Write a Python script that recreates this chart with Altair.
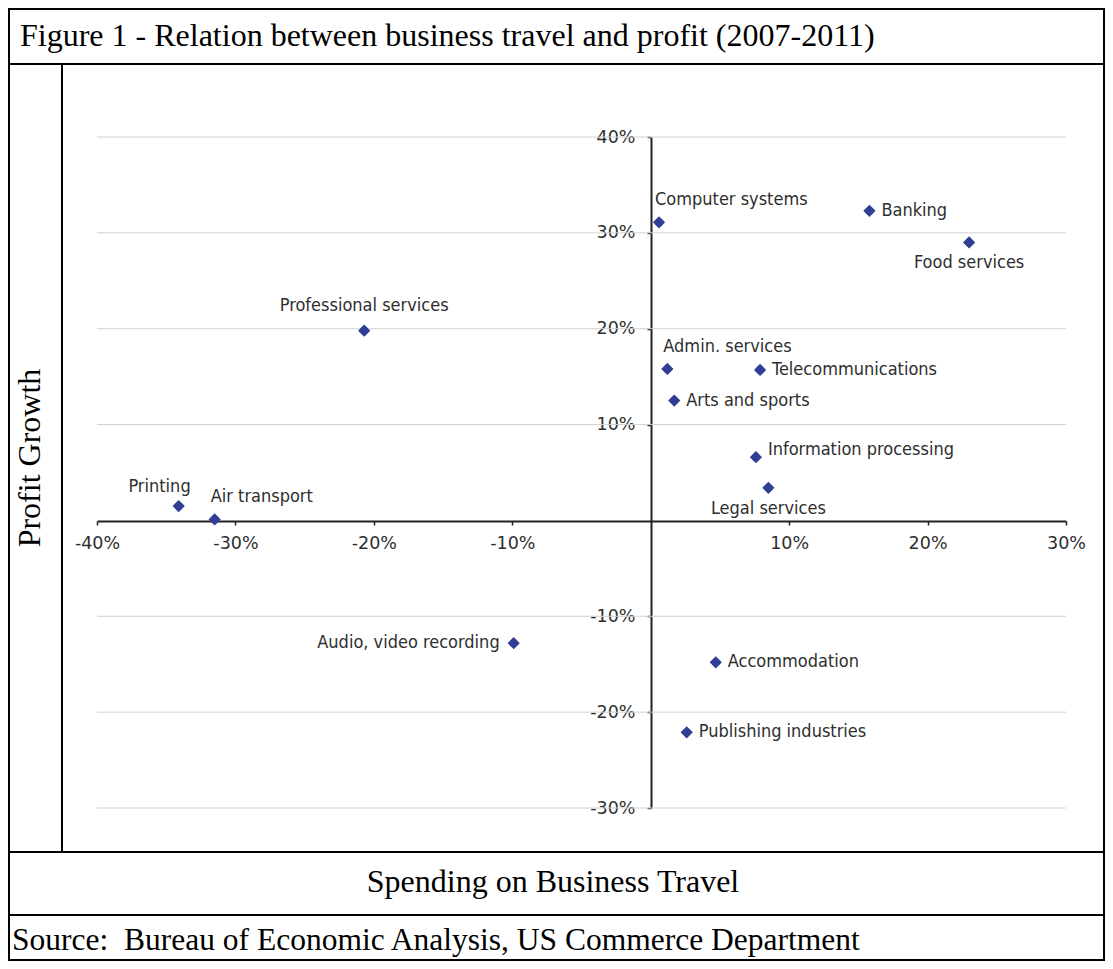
import altair as alt
import pandas as pd

# ---- data ----
names = ["Computer systems", "Banking", "Food services", "Professional services",
         "Admin. services", "Telecommunications", "Arts and sports",
         "Information processing", "Legal services", "Printing", "Air transport",
         "Audio, video recording", "Accommodation", "Publishing industries"]
spending = [0.006, 0.158, 0.230, -0.207, 0.012, 0.079, 0.017, 0.076, 0.085,
            -0.341, -0.315, -0.099, 0.047, 0.026]
profit = [0.311, 0.323, 0.290, 0.198, 0.158, 0.157, 0.125, 0.066, 0.034,
          0.015, 0.001, -0.128, -0.148, -0.221]
label_place = ["above-start", "right", "below", "above", "above-start", "right",
               "right", "upper-right", "below", "above-end", "above-start",
               "left", "right", "right"]

x_ticks = [-0.4, -0.3, -0.2, -0.1, 0.1, 0.2, 0.3]
y_ticks = [-0.3, -0.2, -0.1, 0.1, 0.2, 0.3, 0.4]

title_text = "Figure 1 - Relation between business travel and profit (2007-2011)"
y_title = "Profit Growth"
x_title = "Spending on Business Travel"
source_text = "Source:\u00a0 Bureau of Economic Analysis, US Commerce Department"

df = pd.DataFrame({"name": names, "spending": spending, "profit": profit,
                   "place": label_place})
grid_df = pd.DataFrame({"g": y_ticks})

# ---- layout ----
W, H = 1097, 953
SANS = "DejaVu Sans Condensed, Liberation Sans Narrow, DejaVu Sans, sans-serif"
TICKF = "DejaVu Sans, sans-serif"
SERIF = "Liberation Serif, Times New Roman, serif"
X0, Y0 = 643, 513  # pixel position of the zero axes
FS = 18
TXT = "#2e2e2e"
MARK = "#303f94"

xs = alt.Scale(domain=[-0.4, 0.3], range=[89, 1058], nice=False, zero=False)
ys = alt.Scale(domain=[-0.3, 0.4], range=[800, 129], nice=False, zero=False)

lab = "toString(round(datum.value*100)) + '%'"
xaxis = alt.Axis(values=x_ticks, labelExpr=lab, title=None, grid=False,
                 labelFlush=False, labelOverlap=False,
                 domainColor="#222222", domainWidth=2, tickColor="#222222",
                 tickSize=4, tickWidth=1.5, labelFontSize=17.5, labelColor=TXT,
                 labelFont=TICKF, labelPadding=9, offset=Y0 - H)
yaxis = alt.Axis(values=y_ticks, labelExpr=lab, title=None, grid=False,
                 labelFlush=False, labelOverlap=False,
                 domainColor="#222222", domainWidth=2, tickColor="#222222",
                 tickSize=4, tickWidth=1.5, labelFontSize=17.5, labelColor=TXT,
                 labelFont=TICKF, labelPadding=12, offset=-X0)

one = alt.Data(values=[{}])

def hline(y, x1=0, x2=W):
    return alt.Chart(one).mark_rule(color="black", strokeWidth=2).encode(
        x=alt.value(x1), x2=alt.value(x2), y=alt.value(y))

frame = alt.Chart(one).mark_rect(fillOpacity=0, stroke="black", strokeWidth=2).encode(
    x=alt.value(1), x2=alt.value(W - 1), y=alt.value(1), y2=alt.value(H - 1))
vline = alt.Chart(one).mark_rule(color="black", strokeWidth=2).encode(
    x=alt.value(54), y=alt.value(56), y2=alt.value(844))

grid = alt.Chart(grid_df).mark_rule(color="#d2d2d2", strokeWidth=1).encode(
    y=alt.Y("g:Q", scale=ys, axis=yaxis),
    x=alt.datum(-0.4, scale=xs, axis=xaxis), x2=alt.datum(0.3))

enc = dict(x=alt.X("spending:Q", scale=xs, axis=xaxis),
           y=alt.Y("profit:Q", scale=ys, axis=yaxis))
pts_d = alt.Chart(df).mark_point(shape="diamond", filled=True, size=150,
                                 color=MARK, opacity=1).encode(**enc)
pts_c = alt.Chart(df).mark_point(shape="circle", filled=True, size=60,
                                 color=MARK, opacity=1).encode(**enc)

placements = {
    "above-start": dict(align="left", dx=-4, dy=-22),
    "right": dict(align="left", dx=12, dy=0),
    "upper-right": dict(align="left", dx=12, dy=-7),
    "below": dict(align="center", dx=0, dy=21),
    "above": dict(align="center", dx=0, dy=-25),
    "above-end": dict(align="right", dx=12, dy=-19),
    "left": dict(align="right", dx=-14, dy=0),
}
labels = []
for key, p in placements.items():
    labels.append(
        alt.Chart(df).transform_filter(alt.datum.place == key).mark_text(
            baseline="middle", font=SANS, fontSize=FS, color=TXT, **p
        ).encode(text="name:N", **enc))

t_title = alt.Chart(one).mark_text(text=title_text, align="left", baseline="middle",
                                   font=SERIF, fontSize=32, color="black").encode(
    x=alt.value(12), y=alt.value(28))
t_y = alt.Chart(one).mark_text(text=y_title, align="center", baseline="middle", angle=270,
                               font=SERIF, fontSize=32, color="black").encode(
    x=alt.value(22), y=alt.value(450))
t_x = alt.Chart(one).mark_text(text=x_title, align="center", baseline="middle",
                               font=SERIF, fontSize=32, color="black").encode(
    x=alt.value(545), y=alt.value(874))
t_src = alt.Chart(one).mark_text(text=source_text, align="left", baseline="middle",
                                 font=SERIF, fontSize=31.5, color="black").encode(
    x=alt.value(4), y=alt.value(933))

chart = alt.layer(
    grid, pts_d, pts_c, *labels, frame, hline(56), vline, hline(844), hline(907),
    t_title, t_y, t_x, t_src
).properties(
    width=W, height=H, padding=0,
    autosize=alt.AutoSizeParams(type="none"), background="white"
).configure_view(stroke=None)

chart.save("out.html", embed_options={"renderer": "svg", "actions": False})
